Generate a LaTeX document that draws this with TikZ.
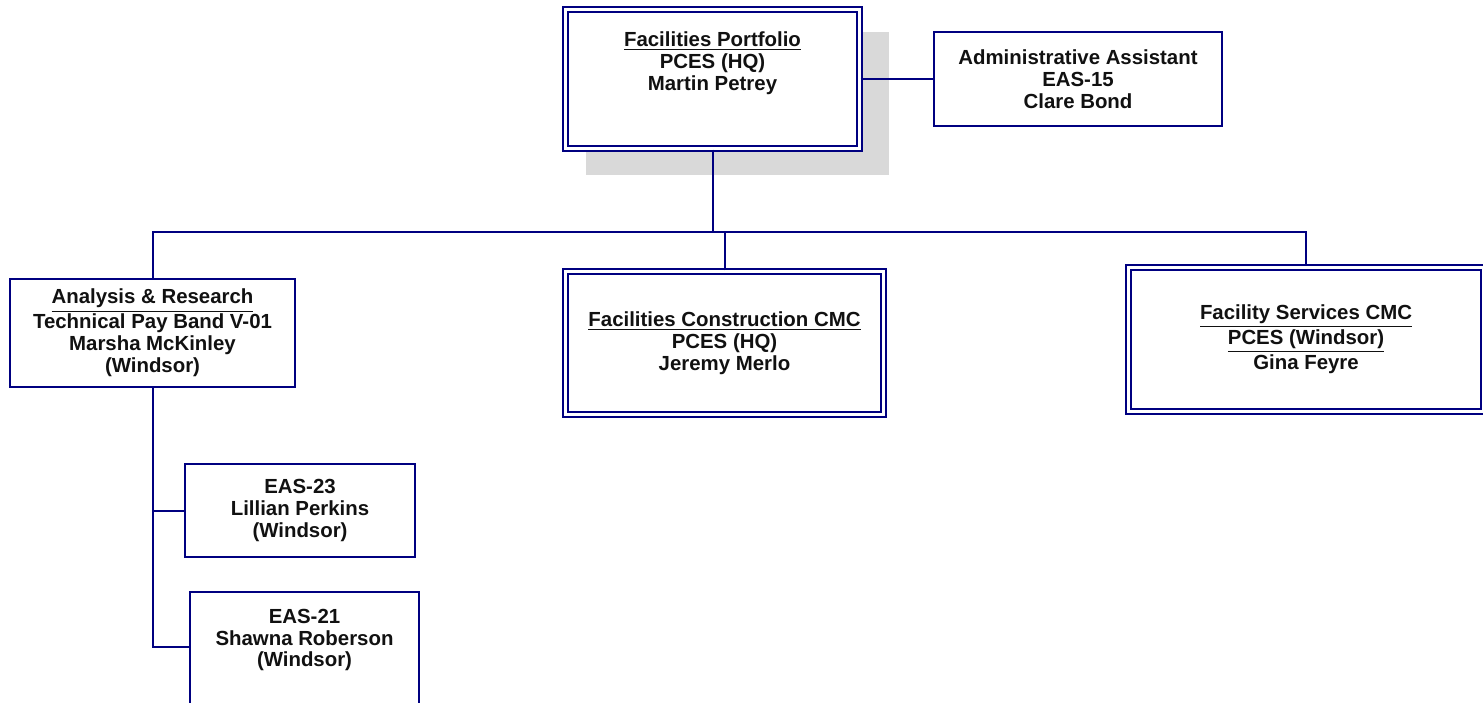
\documentclass[tikz,border=0pt]{standalone}
\usepackage{fontspec}
\setmainfont{Liberation Sans}
\usetikzlibrary{positioning,shadows}
\definecolor{boxblue}{HTML}{000080}
\definecolor{shadowgray}{HTML}{D9D9D9}
\definecolor{ink}{HTML}{111111}

\begin{document}
\begin{tikzpicture}[x=0.5pt, y=-0.5pt,
  every node/.style={font=\bfseries\fontsize{10.2}{10.9}\selectfont, text=ink, align=center, inner sep=0pt},
  unit/.style={draw=boxblue, line width=1pt, fill=white},
  head/.style={unit, double=white, double distance=1.2pt, line width=1.1pt},
  link/.style={draw=boxblue, line width=1pt}]
  \useasboundingbox (0,0) rectangle (1483,702);
  \clip (0,0) rectangle (1483,702);

  \node[head, minimum width=147.1pt, minimum height=69.6pt,
        general shadow={fill=shadowgray, shadow scale=1.03, shadow xshift=12pt, shadow yshift=-12pt}]
        (port) at (712.5,79) {};
  \node (portT) at (712.5,63) {\underline{Facilities Portfolio}\\PCES (HQ)\\Martin Petrey};
  \node[unit, minimum width=144pt, minimum height=47pt] (admin) at (1078,79)
        {Administrative Assistant\\EAS-15\\Clare Bond};

  \node[unit, minimum width=142.5pt, minimum height=54pt] (anr) at (152.5,333)
        {\underline{Analysis \& Research}\\Technical Pay Band V-01\\Marsha McKinley\\(Windsor)};
  \node[head, minimum width=159pt, minimum height=71.6pt] (fcc) at (724.5,343)
        {\underline{Facilities Construction CMC}\\PCES (HQ)\\Jeremy Merlo};
  \node[head, minimum width=177.6pt, minimum height=72pt] (fsv) at (1306,339.5)
        {\underline{Facility Services CMC}\\\underline{PCES (Windsor)}\\Gina Feyre};

  \node[unit, minimum width=115pt, minimum height=46.5pt] (eas23) at (300,510.5)
        {EAS-23\\Lillian Perkins\\(Windsor)};
  \node[unit, minimum width=114.5pt, minimum height=64pt] (eas21) at (304.5,656) {};
  \node (eas21T) at (304.5,640) {EAS-21\\Shawna Roberson\\(Windsor)};

  \coordinate (bus) at (0,232);
  \coordinate (j21) at ([yshift=4.5pt]eas21.west);

  \draw[link] (port.east) -- (admin.west);
  \draw[link] (port.south) -- (port.south |- bus);
  \draw[link] (anr.north) -- (anr.north |- bus) -- (fsv.north |- bus) -- (fsv.north);
  \draw[link] (fcc.north) -- (fcc.north |- bus);
  \draw[link] (anr.south) -- (anr.south |- j21) -- (j21);
  \draw[link] (anr.south |- eas23.west) -- (eas23.west);
\end{tikzpicture}
\end{document}
